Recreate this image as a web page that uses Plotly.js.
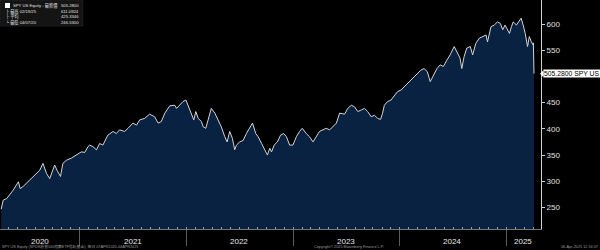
<!DOCTYPE html>
<html>
<head>
<meta charset="utf-8">
<script src="https://cdn.plot.ly/plotly-3.0.1.min.js"></script>
<style>html,body{margin:0;padding:0;background:#000;}#chart{width:600px;height:250px;}</style>
</head>
<body>
<div id="chart"></div>
<script>
// ---- data ----
const dates = [
'2020-04-07','2020-04-14','2020-04-26','2020-05-07','2020-05-18','2020-06-05','2020-06-11','2020-06-21','2020-07-02','2020-07-19',
'2020-08-05','2020-08-17','2020-08-28','2020-09-09','2020-09-20','2020-09-29','2020-10-07','2020-10-15','2020-10-27','2020-11-04',
'2020-11-16','2020-12-03','2020-12-20','2021-01-06','2021-01-18','2021-01-29','2021-02-04','2021-02-15','2021-02-27','2021-03-10',
'2021-03-21','2021-04-07','2021-04-25','2021-05-06','2021-05-17','2021-06-03','2021-06-15','2021-07-02','2021-07-14','2021-07-25',
'2021-08-11','2021-08-28','2021-09-14','2021-09-26','2021-10-07','2021-10-19','2021-11-05','2021-11-22','2021-11-28','2021-12-09',
'2021-12-20','2021-12-30','2022-01-06','2022-01-18','2022-01-26','2022-02-02','2022-02-10','2022-02-21','2022-02-27','2022-03-08',
'2022-03-19','2022-03-27','2022-04-08','2022-04-19','2022-04-30','2022-05-12','2022-05-20','2022-05-29','2022-06-07','2022-06-15',
'2022-06-21','2022-07-02','2022-07-14','2022-07-25','2022-08-06','2022-08-15','2022-08-26','2022-09-03','2022-09-15','2022-09-26',
'2022-10-05','2022-10-13','2022-10-19','2022-10-28','2022-11-08','2022-11-19','2022-11-30','2022-12-09','2022-12-20','2022-12-31',
'2023-01-12','2023-01-23','2023-02-01','2023-02-15','2023-02-26','2023-03-10','2023-03-21','2023-04-01','2023-04-13','2023-04-24',
'2023-05-06','2023-05-17','2023-05-29','2023-06-09','2023-06-26','2023-07-07','2023-07-19','2023-07-30','2023-08-10','2023-08-22',
'2023-09-02','2023-09-13','2023-09-25','2023-10-06','2023-10-17','2023-10-27','2023-11-03','2023-11-09','2023-11-20','2023-12-02',
'2023-12-13','2023-12-24','2024-01-05','2024-01-16','2024-01-27','2024-02-08','2024-02-19','2024-03-01','2024-03-13','2024-03-24',
'2024-04-04','2024-04-14','2024-04-25','2024-05-07','2024-05-18','2024-05-29','2024-06-10','2024-06-21','2024-07-05','2024-07-16',
'2024-07-25','2024-07-31','2024-08-08','2024-08-17','2024-08-29','2024-09-06','2024-09-17','2024-09-29','2024-10-10','2024-10-22',
'2024-10-27','2024-11-08','2024-11-19','2024-11-30','2024-12-10','2024-12-18','2024-12-26','2025-01-10','2025-01-17','2025-01-23',
'2025-02-03','2025-02-10','2025-02-19','2025-02-26','2025-03-05','2025-03-13','2025-03-19','2025-03-26','2025-04-01','2025-04-02',
'2025-04-03','2025-04-04'
];
const prices = [
246.53,264,267,274,283,299,286,290,296,305,
315,321,334,315,305,321,331,321,309,334,
340,344,350,356,355,366,369,366,360,372,
369,388,395,391,398,395,401,411,407,417,
420,428,423,411,414,430,444,445,439,445,
452,455,445,430,417,433,420,414,404,401,
426,439,430,417,404,385,375,395,382,360,
369,375,378,391,404,411,391,385,372,360,
350,363,356,369,375,388,391,385,369,369,
385,395,401,391,385,375,385,395,398,401,
398,404,411,430,428,439,445,442,433,436,
439,433,423,426,420,418,430,445,452,455,
464,471,474,480,487,493,499,506,512,515,
509,490,503,515,522,519,531,541,557,544,
535,515,538,554,557,541,563,573,576,579,
566,595,598,604,601,589,598,582,595,604,
598,604,611.0924,598,582,557,576,566,560,564,
536,505.28
];
const ticker = 'SPY US';
const lastValue = 505.28;
const statLabels = ['SPY US Equity - 最新價', '├ 最高 02/19/25', '├ 平均', '└ 最低 04/07/20'];
const statValues = ['505.2800', '611.0924', '425.3346', '246.5300'];
const yTicks = [250, 300, 350, 400, 450, 550, 600];
const yearBoundaries = ['2021-01-01','2022-01-01','2023-01-01','2024-01-01','2025-01-01'];
const yearLabels = ['2020','2021','2022','2023','2024','2025'];
const yearLabelDates = ['2020-08-17','2021-07-02','2022-07-01','2023-06-30','2024-06-29','2025-02-26'];
const footLeft = 'SPY US Equity (SPDR標普500指數ETF信託基金)  每日 07APR2020-04APR2025';
const footMid = 'Copyright© 2025 Bloomberg Finance L.P.';
const footRight = '06-Apr-2025 12:16:07';

// ---- layout helpers (pixel -> paper) ----
const PW = 541, PH = 229;
const px = v => v / PW;
const py = v => 1 - v / PH;
const FONT = 'Liberation Sans, Arial, Noto Sans CJK TC, sans-serif';

const trace = {
  x: dates, y: prices, type: 'scatter', mode: 'lines',
  line: {color: '#d4d4d4', width: 1},
  fill: 'tozeroy', fillcolor: 'rgb(10,34,66)',
  hoverinfo: 'skip'
};

const annotations = [];
// legend box text
const rowY = [5.5, 11, 16.5, 22];
statLabels.forEach((t, i) => {
  annotations.push({xref:'paper', yref:'paper', x:px(i===0?12:5), y:py(rowY[i]), xanchor:'left', yanchor:'middle',
    text:t, showarrow:false, borderpad:0, font:{family:FONT, size:4.2, color:'#e0e0e0'}});
  annotations.push({xref:'paper', yref:'paper', x:px(80), y:py(rowY[i]), xanchor:'right', yanchor:'middle',
    text:statValues[i], showarrow:false, borderpad:0, font:{family:FONT, size:4.2, color:'#e0e0e0'}});
});
// year labels
yearLabels.forEach((t, i) => {
  annotations.push({xref:'x', yref:'paper', x:yearLabelDates[i], y:0, yshift:-12, yanchor:'middle', xanchor:'center',
    text:t, showarrow:false, font:{family:FONT, size:8, color:'#e8e8e8'}});
});
// last value label
annotations.push({xref:'paper', yref:'y', x:1, xshift:2, y:lastValue, xanchor:'left', yanchor:'middle',
  text:lastValue.toFixed(4) + ' ' + ticker, showarrow:false, bgcolor:'#ffffff', borderpad:0,
  font:{family:FONT, size:6.8, color:'#000'}});
// footers
annotations.push({xref:'paper', yref:'paper', x:0, y:0, yshift:-17.5, xanchor:'left', yanchor:'middle',
  text:footLeft, showarrow:false, font:{family:FONT, size:3.8, color:'#9a9a9a'}});
annotations.push({xref:'paper', yref:'paper', x:px(312), y:0, yshift:-17.5, xanchor:'left', yanchor:'middle',
  text:footMid, showarrow:false, font:{family:FONT, size:3.8, color:'#9a9a9a'}});
annotations.push({xref:'paper', yref:'paper', x:px(600), y:0, yshift:-17.5, xanchor:'right', yanchor:'middle',
  text:footRight, showarrow:false, font:{family:FONT, size:3.8, color:'#9a9a9a'}});

const shapes = [
  // legend box
  {type:'rect', xref:'paper', yref:'paper', x0:0, x1:px(83), y0:py(0), y1:py(26),
   fillcolor:'#141414', line:{color:'#2a2a2a', width:0.5}, layer:'above'},
  // white square
  {type:'rect', xref:'paper', yref:'paper', x0:px(5), x1:px(10), y0:py(3), y1:py(8),
   fillcolor:'#ffffff', line:{width:0}, layer:'above'}
];

const layout = {
  width: 600, height: 250,
  margin: {l:0, r:59, t:0, b:21},
  paper_bgcolor: '#000', plot_bgcolor: '#000',
  showlegend: false,
  xaxis: {
    type:'date', range:['2020-04-03','2025-04-28'],
    tickmode:'array', tickvals: yearBoundaries, showticklabels:false,
    ticks:'outside', ticklen:16, tickcolor:'#5a5a5a', tickwidth:1,
    minor:{dtick:'M1', tick0:'2020-01-01', ticks:'inside', ticklen:2, tickcolor:'#9a9a9a', showgrid:false},
    showgrid:false, zeroline:false, showline:true, linecolor:'#777', linewidth:1, fixedrange:true
  },
  yaxis: {
    side:'right', range:[208.9, 645.8], tickmode:'array', tickvals:yTicks,
    ticks:'outside', ticklen:3, tickcolor:'#cfcfcf', tickwidth:1,
    tickfont:{family:FONT, size:8, color:'#e0e0e0'},
    showgrid:false, zeroline:false, showline:true, linecolor:'#cfcfcf', linewidth:1, fixedrange:true
  },
  annotations: annotations,
  shapes: shapes
};

Plotly.newPlot('chart', [trace], layout, {staticPlot:true, displayModeBar:false}).then(gd => {
  // small left-pointing pointer for the last-value label, placed on the y scale
  const ya = gd._fullLayout.yaxis;
  const yp = ya.l2p(lastValue) + gd._fullLayout.margin.t;
  const svgs = gd.querySelectorAll('.main-svg');
  const svg = svgs[svgs.length - 1];
  const ns = 'http://www.w3.org/2000/svg';
  const tri = document.createElementNS(ns, 'path');
  tri.setAttribute('d', `M540,${yp} L543.5,${yp-3.5} L543.5,${yp+3.5} Z`);
  tri.setAttribute('fill', '#ffffff');
  svg.appendChild(tri);
});
</script>
</body>
</html>
